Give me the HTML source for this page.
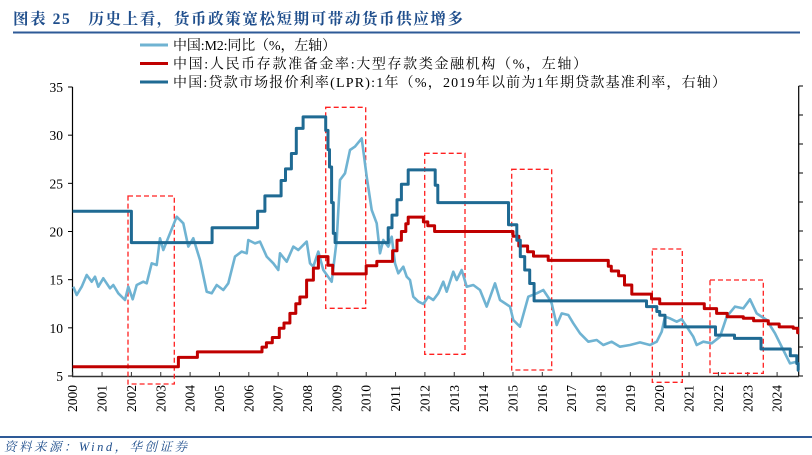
<!DOCTYPE html>
<html><head><meta charset="utf-8">
<style>
html,body{margin:0;padding:0;background:#fff;}
body{width:812px;height:455px;overflow:hidden;position:relative;font-family:"Liberation Serif","Noto Serif CJK SC",serif;}
</style></head>
<body>
<svg id="chart" width="812" height="455" xmlns="http://www.w3.org/2000/svg" style="position:absolute;left:0;top:0">
<text x="13" y="24" font-size="15.5" font-weight="bold" fill="#1f4e8c" textLength="450" lengthAdjust="spacing" font-family="'Liberation Serif','Noto Serif CJK SC',serif">图表 25　历史上看，货币政策宽松短期可带动货币供应增多</text>
<line x1="13" y1="32.5" x2="800" y2="32.5" stroke="#2e5a97" stroke-width="2"/>
<g font-size="14" fill="#000">
 <g><line x1="140" y1="45" x2="168" y2="45" stroke="#6fb3d2" stroke-width="3"/><text x="173" y="50" textLength="163" lengthAdjust="spacing">中国:M2:同比（%，左轴）</text></g>
 <g><line x1="140" y1="63.5" x2="168" y2="63.5" stroke="#c00000" stroke-width="3"/><text x="173" y="68.5" textLength="414" lengthAdjust="spacing">中国:人民币存款准备金率:大型存款类金融机构（%，左轴）</text></g>
 <g><line x1="140" y1="82" x2="168" y2="82" stroke="#1f6a93" stroke-width="3"/><text x="173" y="87" textLength="553" lengthAdjust="spacing">中国:贷款市场报价利率(LPR):1年（%，2019年以前为1年期贷款基准利率，右轴）</text></g>
</g>
<g id="axes"></g>
<g id="boxes" fill="none" stroke="#ff2020" stroke-width="1.3" stroke-dasharray="5,3"></g>
<g id="series"></g>
<line x1="0" y1="437" x2="812" y2="437" stroke="#2e5a97" stroke-width="2"/>
<text x="4" y="451" font-size="12.5" font-style="italic" fill="#1f4e8c" textLength="183" lengthAdjust="spacing">资料来源：Wind，华创证券</text>
</svg>
<script>
const yearTicks = [2000,2001,2002,2003,2004,2005,2006,2007,2008,2009,2010,2011,2012,2013,2014,2015,2016,2017,2018,2019,2020,2021,2022,2023,2024];
const leftTicks = [5,10,15,20,25,30,35];
const m2T = [2000.02,2000.135,2000.306,2000.476,2000.646,2000.76,2000.873,2001.044,2001.271,2001.384,2001.555,2001.782,2001.895,2002.043,2002.18,2002.406,2002.52,2002.69,2002.861,2002.974,2003.088,2003.315,2003.542,2003.769,2003.94,2004.11,2004.337,2004.565,2004.735,2004.905,2005.132,2005.303,2005.53,2005.757,2005.927,2005.984,2006.211,2006.382,2006.609,2006.836,2007.006,2007.063,2007.29,2007.517,2007.688,2007.972,2008.085,2008.199,2008.369,2008.539,2008.824,2008.995,2009.107,2009.278,2009.448,2009.618,2009.846,2010.016,2010.186,2010.357,2010.47,2010.584,2010.754,2010.868,2010.981,2011.095,2011.265,2011.379,2011.492,2011.606,2011.776,2011.946,2012.117,2012.287,2012.457,2012.628,2012.742,2012.969,2013.082,2013.253,2013.423,2013.65,2013.877,2014.104,2014.388,2014.559,2014.9,2015.013,2015.24,2015.524,2015.808,2016.035,2016.262,2016.319,2016.49,2016.66,2016.887,2017.057,2017.284,2017.568,2017.852,2018.079,2018.363,2018.647,2018.988,2019.329,2019.669,2019.897,2020.067,2020.18,2020.351,2020.578,2020.749,2020.919,2021.146,2021.26,2021.487,2021.771,2022.055,2022.282,2022.566,2022.85,2023.077,2023.304,2023.645,2023.928,2024.212,2024.439,2024.666];
const m2V = [14.27,13.41,14.27,15.48,14.79,15.31,14.27,15.14,14.1,14.45,13.58,12.89,14.27,12.96,14.45,14.79,14.62,16.7,16.52,19.29,18.08,19.81,21.54,20.85,18.43,19.29,17.04,13.75,13.58,14.45,13.93,14.62,17.39,17.91,17.74,19.12,18.77,18.95,17.39,16.7,16.0,17.74,16.87,18.43,18.08,18.95,16.7,16.35,17.91,16.0,14.79,19.12,25.35,26.04,28.46,28.81,29.67,25.69,22.23,20.85,17.74,19.12,18.43,19.46,16.7,15.66,16.35,15.31,14.97,13.23,12.72,12.47,13.23,12.89,13.58,14.79,13.75,15.83,14.97,16.0,14.27,14.45,13.93,12.2,14.62,12.89,12.2,10.81,10.12,13.23,13.58,13.93,12.89,12.54,10.29,11.5,11.33,10.47,9.43,8.56,8.74,8.22,8.56,8.04,8.22,8.49,8.22,8.56,9.6,11.16,10.98,10.64,10.9,10.12,9.08,8.22,8.56,8.39,9.08,11.16,12.2,12.02,12.96,11.5,10.81,9.43,7.7,6.31,6.48];
const rrrT = [2000,2003.6,2004.25,2006.45,2006.6,2006.8,2007.04,2007.2,2007.4,2007.6,2007.74,2007.97,2008.2,2008.37,2008.7,2008.86,2010.0,2010.36,2010.9,2011.05,2011.2,2011.35,2011.43,2011.95,2012.1,2012.33,2015.0,2015.2,2015.5,2015.7,2016.2,2018.25,2018.35,2018.6,2018.8,2019.05,2019.72,2020.0,2021.52,2021.94,2022.3,2022.85,2023.2,2023.7,2024.07,2024.55,2024.7,2024.75];
const rrrV = [5.96,6.93,7.5,8.0,8.46,9.0,9.95,10.5,11.5,12.5,13.2,14.96,16.2,17.4,16.5,15.6,16.45,16.9,18.0,19.1,20.0,20.8,21.5,21.0,20.6,20.0,19.5,18.5,17.9,17.45,17.0,16.4,15.9,15.4,14.45,13.5,13.0,12.5,12.0,11.5,11.15,11.0,10.74,10.4,10.1,9.95,9.5,9.5];
const lprT = [2000,2002.0,2004.75,2006.3,2006.55,2007.1,2007.25,2007.45,2007.62,2007.85,2008.62,2008.7,2008.75,2008.82,2008.88,2008.94,2010.75,2010.88,2011.05,2011.2,2011.43,2012.35,2012.44,2014.85,2015.13,2015.25,2015.4,2015.57,2015.72,2019.55,2019.9,2020.0,2020.18,2021.9,2022.55,2023.45,2024.45,2024.67,2024.72,2024.75];
const lprV = [22.1,18.85,20.4,22.1,23.7,25.3,26.5,28.1,30.7,31.9,30.5,28.5,26.7,23.0,19.8,18.85,20.4,21.7,23.3,24.9,26.4,24.8,23.0,20.7,19.1,17.4,16.0,14.6,12.8,12.2,11.7,11.3,10.1,9.25,8.9,7.8,7.1,6.3,5.6,5.6];

const NS = "http://www.w3.org/2000/svg";
function xS(t){ return 72.7 + (t-2000)*29.35; }
function yS(v){ return 376 - (v-5)*9.633; }
function mk(tag, attrs, parent){ const e=document.createElementNS(NS,tag); for(const k in attrs) e.setAttribute(k,attrs[k]); parent.appendChild(e); return e; }

const axes = document.getElementById('axes');
const lx = mk('line',{x1:72.5,y1:87,x2:72.5,y2:376.5,stroke:'#000','stroke-width':1.2},axes);


const rx = mk('line',{x1:798.7,y1:86,x2:798.7,y2:376.5,stroke:'#000','stroke-width':1.2},axes);


for(let i=0;i<11;i++){
  const yy = 86 + i*29;
  const tk = mk('line',{x1:798.7,y1:yy,x2:803,y2:yy,stroke:'#000','stroke-width':1},axes);
  
  
}
const xa = mk('line',{x1:72,y1:376.5,x2:799,y2:376.5,stroke:'#333','stroke-width':1.4},axes);


leftTicks.forEach(v=>{
  const y=yS(v);
  const tk = mk('line',{x1:68,y1:y,x2:72.5,y2:y,stroke:'#000','stroke-width':1},axes);
  
  
  const tx = mk('text',{x:63,y:y+5,'text-anchor':'end','font-size':13.5,fill:'#000'},axes);
  tx.textContent = v;
  
  
});
yearTicks.forEach(yr=>{
  const x=xS(yr);
  const tk = mk('line',{x1:x,y1:372,x2:x,y2:376.5,stroke:'#333','stroke-width':1},axes);
  
  
  const tx = mk('text',{x:0,y:0,'text-anchor':'end','font-size':13.5,fill:'#000',transform:`translate(${x+4.5},385) rotate(-90)`},axes);
  tx.textContent = yr;
  
  
});

const boxes = document.getElementById('boxes');
[[128,196,174.3,384],[325.7,107.3,365.7,308.3],[424.7,153.3,465,354.3],[511.7,169.3,551.7,370],[652.3,249,682.3,382.3],[710,280,763.3,373.3]].forEach(b=>{
  const r = mk('rect',{x:b[0],y:b[1],width:b[2]-b[0],height:b[3]-b[1]},boxes);
  
  
});

const series = document.getElementById('series');
function stepPath(T,V){ let d=''; for(let i=0;i<T.length;i++){ const x=xS(T[i]).toFixed(1), y=yS(V[i]).toFixed(1); if(i===0) d+=`M${x},${y}`; else { d+=`L${x},${yS(V[i-1]).toFixed(1)}L${x},${y}`; } } return d; }
function linePath(T,V){ return T.map((t,i)=>(i?'L':'M')+xS(t).toFixed(1)+','+yS(V[i]).toFixed(1)).join(''); }
const pm2 = mk('path',{d:linePath(m2T,m2V),fill:'none',stroke:'#6fb3d2','stroke-width':2.6,'stroke-linejoin':'round'},series);


const prr = mk('path',{d:stepPath(rrrT,rrrV),fill:'none',stroke:'#c00000','stroke-width':3,'stroke-linejoin':'round'},series);


const plp = mk('path',{d:stepPath(lprT,lprV),fill:'none',stroke:'#1f6a93','stroke-width':3,'stroke-linejoin':'round'},series);


</script>
</body></html>
